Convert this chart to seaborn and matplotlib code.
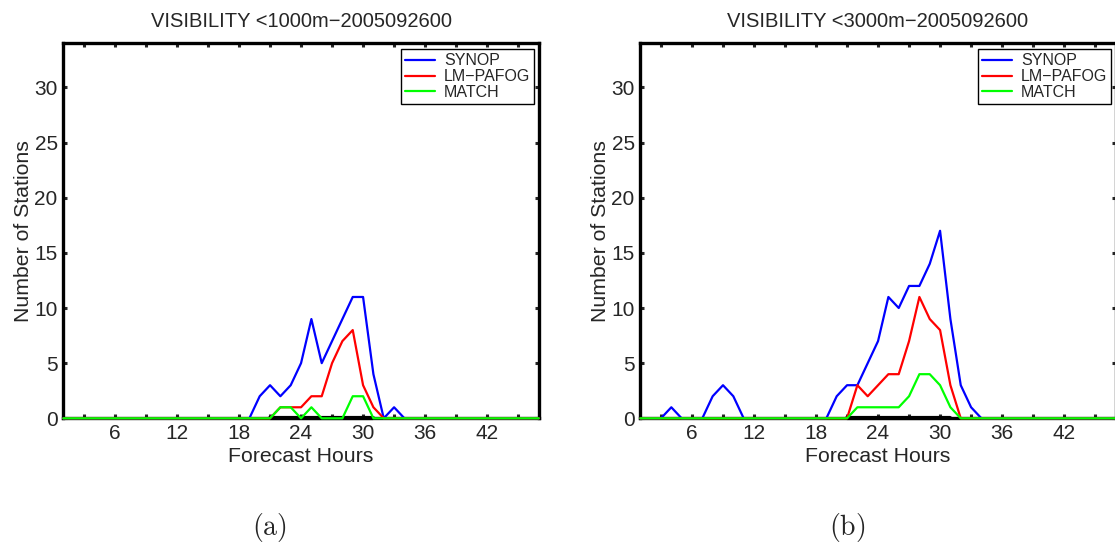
import numpy as np
import pandas as pd
import matplotlib
matplotlib.use("Agg")
import matplotlib.pyplot as plt
import seaborn as sns

# ---------------- data ----------------
hours = list(range(1, 48))

def series(d):
    return [d.get(h, 0) for h in hours]

synop_a = series({20: 2, 21: 3, 22: 2, 23: 3, 24: 5, 25: 9, 26: 5, 27: 7, 28: 9,
                  29: 11, 30: 11, 31: 4, 32: 0, 33: 1})
pafog_a = series({22: 1, 23: 1, 24: 1, 25: 2, 26: 2, 27: 5, 28: 7, 29: 8, 30: 3, 31: 1})
match_a = series({22: 1, 23: 1, 24: 0, 25: 1, 26: 0, 29: 2, 30: 2})

synop_b = series({4: 1, 8: 2, 9: 3, 10: 2, 20: 2, 21: 3, 22: 3, 23: 5, 24: 7, 25: 11,
                  26: 10, 27: 12, 28: 12, 29: 14, 30: 17, 31: 9, 32: 3, 33: 1})
pafog_b = series({22: 3, 23: 2, 24: 3, 25: 4, 26: 4, 27: 7, 28: 11, 29: 9, 30: 8, 31: 3})
match_b = series({22: 1, 23: 1, 24: 1, 25: 1, 26: 1, 27: 2, 28: 4, 29: 4, 30: 3, 31: 1})

# hidden zero-valued black trace visible below the axis
black_hours = [21, 31]
black_vals = [0, 0]

series_names = ["SYNOP", "LM\u2212PAFOG", "MATCH"]
series_colors = ["#0000ff", "#ff0000", "#00ff00"]
titles = ["VISIBILITY <1000m\u22122005092600", "VISIBILITY <3000m\u22122005092600"]
panel_labels = ["(a)", "(b)"]
xmajor = [6, 12, 18, 24, 30, 36, 42]
xminor = [3, 9, 15, 21, 27, 33, 39, 45]
yticks = [0, 5, 10, 15, 20, 25, 30]

# ---------------- style ----------------
sns.set_style("ticks")
plt.rcParams["font.family"] = ["Liberation Sans", "DejaVu Sans"]
plt.rcParams["axes.linewidth"] = 2.4

W, H = 1115, 547
fig = plt.figure(figsize=(W / 100, H / 100), dpi=100)

ax_left_px = [63.3, 640.3]
ax_top_px, ax_bot_px, ax_w_px = 43.3, 418.3, 475.5
label_x_px = [269, 847]

data_sets = [(synop_a, pafog_a, match_a), (synop_b, pafog_b, match_b)]

for i in range(2):
    ax = fig.add_axes([ax_left_px[i] / W, 1 - ax_bot_px / H, ax_w_px / W,
                       (ax_bot_px - ax_top_px) / H])
    # black trace underneath
    sns.lineplot(x=black_hours, y=black_vals, color="black", lw=3.0, ax=ax,
                 legend=False, zorder=3)
    frames = []
    for name, vals in zip(series_names, data_sets[i]):
        frames.append(pd.DataFrame({"hour": hours, "count": vals, "series": name}))
    df = pd.concat(frames, ignore_index=True)
    sns.lineplot(data=df, x="hour", y="count", hue="series", hue_order=series_names,
                 palette=series_colors, lw=1.6, ax=ax, zorder=4)
    for ln in ax.get_lines():
        ln.set_clip_on(False)

    ax.set_xlim(1, 47)
    ax.set_ylim(0, 34)
    ax.set_xticks(xmajor)
    ax.set_xticks(xminor, minor=True)
    ax.set_yticks(yticks)
    ax.tick_params(axis="both", which="both", direction="in", top=True, right=True,
                   length=3, width=2.2, labelsize=15, pad=4)
    for sp in ax.spines.values():
        sp.set_visible(True)
        sp.set_linewidth(2.4)
        sp.set_color("black")

    ax.set_title(titles[i], fontsize=14.5, pad=11.5)
    ax.set_xlabel("Forecast Hours", fontsize=15.3)
    ax.set_ylabel("Number of Stations", fontsize=15.3)
    ax.xaxis.set_label_coords(0.5, -0.076)
    ax.yaxis.set_label_coords(-0.063, 0.5)

    handles, labels = ax.get_legend_handles_labels()
    leg = ax.legend(handles[-3:], labels[-3:], loc="upper right",
                    bbox_to_anchor=(1 - 4.5 / ax_w_px, 1 - 6 / 375), borderaxespad=0,
                    fontsize=11.5, frameon=True, fancybox=False, framealpha=1,
                    edgecolor="black", handlelength=1.9, handletextpad=0.55,
                    labelspacing=0.05, borderpad=0.25)
    leg.get_frame().set_linewidth(1.0)
    for lh in leg.get_lines():
        lh.set_linewidth(1.6)

    fig.text(label_x_px[i] / W, 1 - 527 / H, r"$\mathrm{%s}$" % panel_labels[i],
             fontsize=20, ha="center", va="center", math_fontfamily="cm")

fig.savefig("out.png", dpi=100)
